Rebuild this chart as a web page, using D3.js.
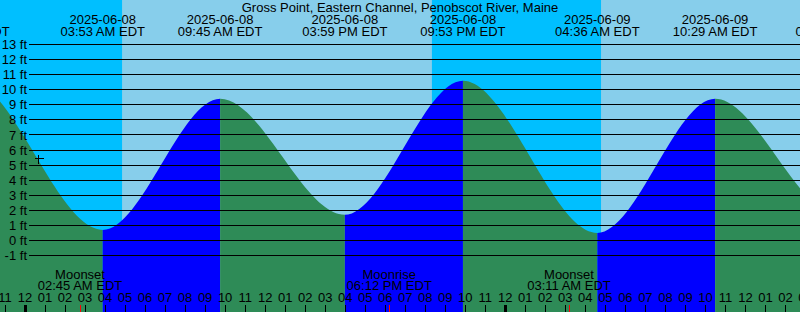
<!DOCTYPE html>
<html><head><meta charset="utf-8">
<script src="https://cdn.jsdelivr.net/npm/d3@7"></script>
<style>
body{margin:0;background:#fff}
svg{display:block}
text{font-family:"Liberation Sans",Arial,sans-serif;font-size:13px;fill:#000}
</style>
</head><body>
<svg id="chart" width="800" height="312"></svg>
<script>
// ---- data ----
const title = "Gross Point, Eastern Channel, Penobscot River, Maine";
// tide extremes (local EDT); first/last are just outside the visible window
const tideTimes = ["2025-06-07 14:58","2025-06-07 21:06","2025-06-08 03:53","2025-06-08 09:45",
                   "2025-06-08 15:59","2025-06-08 21:53","2025-06-09 04:36","2025-06-09 10:29",
                   "2025-06-09 16:38","2025-06-09 22:45"];
const tideHeights = [1.6, 10.7, 0.7, 9.4, 1.7, 10.6, 0.5, 9.4, 1.7, 10.5];
// night intervals (sunset -> sunrise)
const sunsetTimes  = ["2025-06-07 20:19","2025-06-08 20:20"];
const sunriseTimes = ["2025-06-08 04:51","2025-06-09 04:47"];
// moon events
const moonTimes  = ["2025-06-08 02:45","2025-06-08 18:12","2025-06-09 03:11"];
const moonLabels = ["Moonset","Moonrise","Moonset"];
// height ticks (ft)
const heightTicks = [-1,0,1,2,3,4,5,6,7,8,9,10,11,12,13];
// current-time marker
const markerTime = "2025-06-08 00:38";
const markerHeight = 5.5;

// ---- colours ----
const C = {night:"#00BFFF", day:"#87CEEB", rising:"#0000FF", falling:"#2E8B57", tick:"#000", moonTick:"#FF0000"};

const W = 800, H = 312;
const parse = d3.timeParse("%Y-%m-%d %H:%M");
const svg = d3.select("#chart");

const x = d3.scaleTime()
  .domain([parse("2025-06-08 00:00"), parse("2025-06-09 00:00")])
  .range([25, 505.3]);
const y = d3.scaleLinear().domain([-1, 13]).range([255.5, 44.5]);

// sky
svg.append("rect").attr("x",0).attr("y",0).attr("width",W).attr("height",H).attr("fill",C.day);
sunsetTimes.forEach((s,i)=>{
  const x0 = x(parse(s)), x1 = x(parse(sunriseTimes[i]));
  svg.append("rect").attr("x",x0).attr("y",0).attr("width",x1-x0).attr("height",H).attr("fill",C.night);
});

// tide area
const tides = tideTimes.map((t,i)=>({t:parse(t), h:tideHeights[i]}));
const area = d3.area().x(d=>x(d.t)).y0(H).y1(d=>y(d.h)).curve(d3.curveMonotoneX);
const defs = svg.append("defs");
for (let i=0;i<tides.length-1;i++){
  const x0 = x(tides[i].t), x1 = x(tides[i+1].t);
  defs.append("clipPath").attr("id","seg"+i)
    .append("rect").attr("x",x0).attr("y",0).attr("width",x1-x0).attr("height",H);
  svg.append("path").attr("d",area(tides))
    .attr("fill", tides[i+1].h > tides[i].h ? C.rising : C.falling)
    .attr("clip-path","url(#seg"+i+")");
}

// height grid lines + labels
heightTicks.forEach(v=>{
  const yy = Math.floor(y(v)) + 0.5;
  svg.append("line").attr("x1",29).attr("x2",W).attr("y1",yy).attr("y2",yy)
    .attr("stroke","#000").attr("stroke-width",1).attr("shape-rendering","crispEdges");
  svg.append("text").attr("x",27).attr("y",y(v)+4.6).attr("text-anchor","end").text(v+" ft");
});

// marker
{
  const mx = Math.round(x(parse(markerTime)))+0.5, my = Math.round(y(markerHeight))+0.5;
  svg.append("path").attr("d",`M${mx-4},${my}H${mx+5}M${mx},${my-4}V${my+5}`)
    .attr("stroke","#000").attr("stroke-width",1).attr("fill","none").attr("shape-rendering","crispEdges");
}

// title
svg.append("text").attr("x",400).attr("y",12).attr("text-anchor","middle").text(title);

// tide labels (only those that reach into the picture)
const fDate = d3.timeFormat("%Y-%m-%d"), fTime = d3.timeFormat("%I:%M %p");
tides.forEach(d=>{
  const xx = x(d.t);
  if (xx < -60 || xx > W + 60) return;
  svg.append("text").attr("x",xx).attr("y",24).attr("text-anchor","middle").text(fDate(d.t));
  svg.append("text").attr("x",xx).attr("y",35.5).attr("text-anchor","middle").text(fTime(d.t)+" EDT");
});

// moon labels
moonTimes.forEach((t,i)=>{
  const d = parse(t), xx = x(d);
  svg.append("text").attr("x",xx).attr("y",278.5).attr("text-anchor","middle").text(moonLabels[i]);
  svg.append("text").attr("x",xx).attr("y",290).attr("text-anchor","middle").text(fTime(d)+" EDT");
});

// hour ticks
const hours = d3.timeHour.range(x.invert(-10), x.invert(W+10));
const fHour = d3.timeFormat("%I");
hours.forEach(h=>{
  const xx = x(h);
  svg.append("text").attr("x",xx).attr("y",301.5).attr("text-anchor","middle").text(fHour(h));
  const mid = h.getHours()===0;
  svg.append("rect").attr("x",Math.round(xx)-(mid?1:0)).attr("y",305)
    .attr("width",mid?3:1).attr("height",7).attr("fill",C.tick).attr("shape-rendering","crispEdges");
});
moonTimes.forEach(t=>{
  svg.append("rect").attr("x",Math.round(x(parse(t)))).attr("y",305).attr("width",1).attr("height",7)
    .attr("fill",C.moonTick).attr("shape-rendering","crispEdges");
});
</script>
</body></html>
